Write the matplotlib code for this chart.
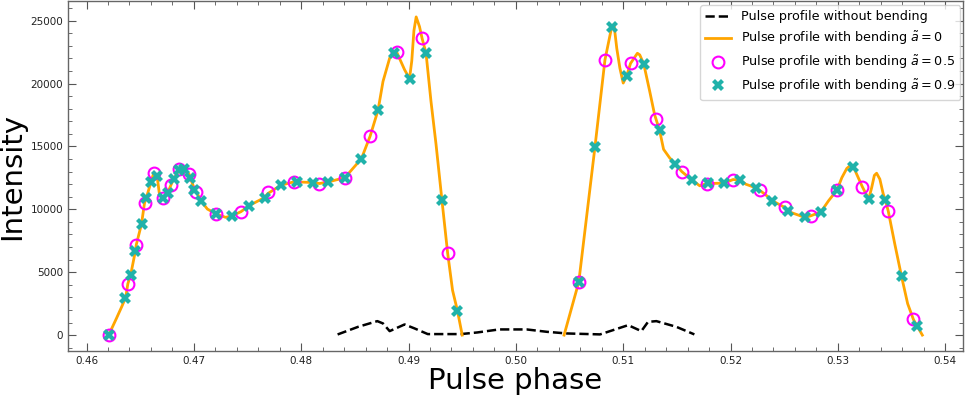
import matplotlib
matplotlib.use("Agg")
import matplotlib.pyplot as plt
from matplotlib.ticker import MultipleLocator, FormatStrFormatter

# ---- data ----
no_bend_phase = [0.48339, 0.48531, 0.48709, 0.48762, 0.48824, 0.48963, 0.49056, 0.49179,
                 0.49487, 0.49641, 0.49843, 0.50100, 0.50290, 0.50475, 0.50784, 0.50907,
                 0.51046, 0.51169, 0.51231, 0.51309, 0.51494, 0.51663]
no_bend_int = [50, 660, 1110, 925, 316, 845, 530, 80,
               80, 210, 450, 450, 260, 130, 55, 400,
               790, 316, 1050, 1110, 660, 55]

# bent profile (a~=0), first pulse
a0_phase_1 = [0.46206, 0.46278, 0.46330, 0.46365, 0.46385, 0.46410, 0.46456, 0.46463, 0.46512,
              0.46540, 0.46555, 0.46602, 0.46626, 0.46657, 0.46679, 0.46709, 0.46756, 0.46787,
              0.46811, 0.46864, 0.46910, 0.46956, 0.46966, 0.47003, 0.47024, 0.47065, 0.47126,
              0.47209, 0.47296, 0.47357, 0.47440, 0.47512, 0.47660, 0.47688, 0.47811, 0.47929,
              0.47960, 0.48114, 0.48170, 0.48253, 0.48407, 0.48561, 0.48642, 0.48716, 0.48762,
              0.48824, 0.48870, 0.48892, 0.48963, 0.49009, 0.49030, 0.49050, 0.49071, 0.49102,
              0.49126, 0.49163, 0.49209, 0.49256, 0.49311, 0.49364, 0.49410, 0.49456, 0.49500]
a0_int_1 = [0, 1320, 2300, 3006, 4090, 4750, 6725, 7175, 8835,
            10500, 10865, 12210, 12900, 12660, 11200, 10890, 11290, 11950,
            12400, 13150, 13240, 12790, 12520, 11650, 11390, 10680, 10020,
            9630, 9360, 9490, 9820, 10285, 10940, 11250, 11920, 12180,
            12180, 12130, 12050, 12180, 12520, 14030, 15820, 17890, 20170,
            22020, 22550, 22450, 21100, 20390, 21800, 24200, 25300, 24530,
            23600, 22410, 18590, 15170, 10735, 6540, 3560, 1920, 0]

# bent profile (a~=0), second pulse
a0_phase_2 = [0.50449, 0.50586, 0.50737, 0.50830, 0.50892, 0.50914, 0.50940, 0.50969, 0.51000,
              0.51031, 0.51068, 0.51132, 0.51154, 0.51191, 0.51247, 0.51292, 0.51339, 0.51376,
              0.51432, 0.51487, 0.51546, 0.51639, 0.51713, 0.51778, 0.51941, 0.52024, 0.52086,
              0.52142, 0.52241, 0.52320, 0.52389, 0.52506, 0.52537, 0.52691, 0.52750, 0.52843,
              0.52913, 0.52991, 0.53037, 0.53083, 0.53110, 0.53144, 0.53228, 0.53287, 0.53315,
              0.53340, 0.53361, 0.53391, 0.53422, 0.53450, 0.53470, 0.53530, 0.53593, 0.53650,
              0.53704, 0.53737, 0.53787]
a0_int_2 = [0, 4220, 14980, 21890, 24470, 24700, 22800, 21230, 20040,
            20570, 21600, 22410, 22280, 21570, 19380, 17540, 16270, 14770,
            14100, 13580, 13000, 12340, 11870, 12050, 12080, 12370, 12320,
            12000, 11690, 11210, 10680, 10150, 9830, 9360, 9490, 9810,
            10680, 11525, 12520, 13250, 13450, 13390, 11790, 10810, 11730,
            12700, 12870, 12400, 11240, 10500, 9830, 7250, 4670, 2500,
            1240, 740, 0]

a05_phase = [0.46206, 0.46385, 0.46463, 0.46540, 0.46626, 0.46709, 0.46787, 0.46864, 0.46956,
             0.47024, 0.47209, 0.47440, 0.47688, 0.47929, 0.48170, 0.48407, 0.48642, 0.48892,
             0.49126, 0.49364, 0.50586, 0.50830, 0.51068, 0.51302, 0.51546, 0.51778, 0.52024,
             0.52271, 0.52506, 0.52750, 0.52991, 0.53228, 0.53469, 0.53704]
a05_int = [0, 4090, 7175, 10500, 12920, 10890, 11950, 13190, 12790,
           11390, 9630, 9820, 11390, 12180, 12000, 12520, 15820, 22490,
           23600, 6540, 4220, 21890, 21600, 17190, 13000, 12050, 12370,
           11570, 10150, 9490, 11525, 11790, 9830, 1240]

a09_phase = [0.46206, 0.46361, 0.46410, 0.46456, 0.46512, 0.46555, 0.46602, 0.46657, 0.46709,
             0.46756, 0.46811, 0.46864, 0.46910, 0.46966, 0.47003, 0.47065, 0.47209, 0.47357,
             0.47512, 0.47660, 0.47811, 0.47960, 0.48114, 0.48253, 0.48407, 0.48561, 0.48716,
             0.48861, 0.49009, 0.49163, 0.49311, 0.49456, 0.50586, 0.50737, 0.50892, 0.51031,
             0.51191, 0.51339, 0.51487, 0.51639, 0.51787, 0.51941, 0.52086, 0.52241, 0.52389,
             0.52537, 0.52691, 0.52843, 0.52991, 0.53144, 0.53287, 0.53438, 0.53593, 0.53737]
a09_int = [0, 2980, 4750, 6725, 8835, 10865, 12210, 12660, 10890,
           11290, 12400, 13130, 13240, 12520, 11525, 10680, 9630, 9490,
           10285, 10940, 11920, 12180, 12130, 12180, 12520, 14030, 17890,
           22410, 20390, 22410, 10735, 1920, 4220, 14980, 24470, 20570,
           21570, 16270, 13580, 12340, 12080, 12080, 12320, 11690, 10680,
           9830, 9360, 9810, 11525, 13390, 10810, 10760, 4670, 740]

labels = ["Pulse profile without bending",
          r"Pulse profile with bending $\tilde{a}=0$",
          r"Pulse profile with bending $\tilde{a}=0.5$",
          r"Pulse profile with bending $\tilde{a}=0.9$"]

fig = plt.figure(figsize=(9.67, 4.0), dpi=100)
ax = fig.add_axes([0.0703, 0.1225, 0.9256, 0.875])

ax.plot(no_bend_phase, no_bend_int, color="black", ls="--", lw=1.8, label=labels[0])
ax.plot(a0_phase_1, a0_int_1, color="orange", lw=2.0, label=labels[1])
ax.plot(a0_phase_2, a0_int_2, color="orange", lw=2.0)
ax.plot(a05_phase, a05_int, ls="none", marker="o", markersize=8.5, markerfacecolor="none",
        markeredgecolor="magenta", markeredgewidth=1.5, label=labels[2])
ax.plot(a09_phase, a09_int, ls="none", marker="X", markersize=8, color="lightseagreen",
        markeredgewidth=0, label=labels[3])

ax.xaxis.set_major_locator(MultipleLocator(0.01))
ax.xaxis.set_minor_locator(MultipleLocator(0.002))
ax.xaxis.set_major_formatter(FormatStrFormatter("%.2f"))
ax.yaxis.set_major_locator(MultipleLocator(5000))
ax.yaxis.set_minor_locator(MultipleLocator(1000))

ax.tick_params(which="both", direction="in", top=True, right=True, colors="#555555",
               labelcolor="#222222", labelsize=7.5)
ax.tick_params(which="major", length=6, width=0.8)
ax.tick_params(which="minor", length=3, width=0.6)
for s in ax.spines.values():
    s.set_color("#666666")
    s.set_linewidth(1.0)

ax.set_xlabel("Pulse phase", fontsize=21, labelpad=1)
ax.set_ylabel("Intensity", fontsize=21, labelpad=3)

ax.legend(loc="upper right", bbox_to_anchor=(1.0, 0.995), borderaxespad=0.2,
          fontsize=9.2, frameon=True, handlelength=2.0)

fig.savefig("out.png", dpi=100)
